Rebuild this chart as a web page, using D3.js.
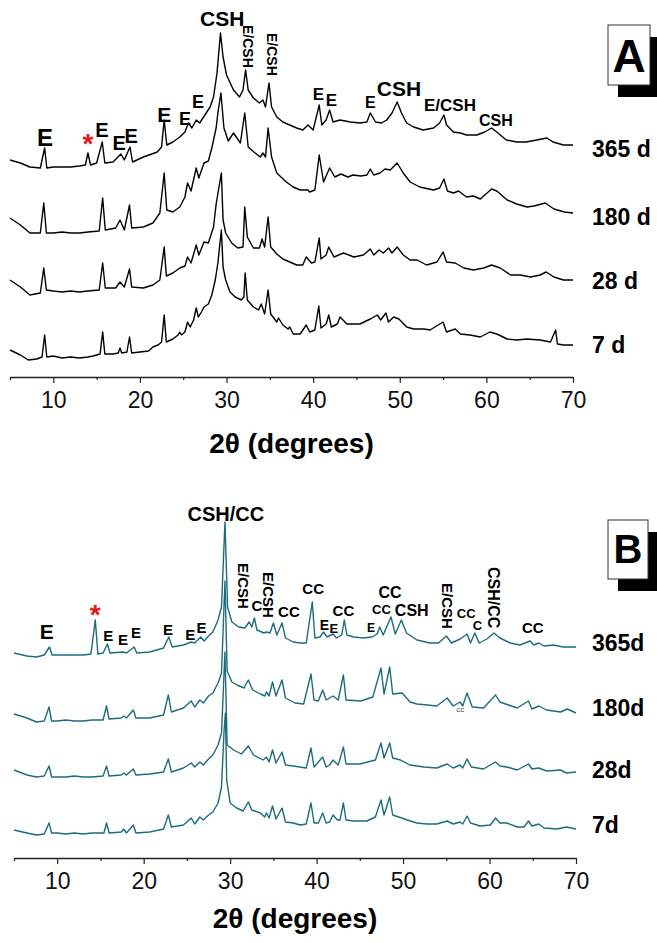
<!DOCTYPE html>
<html>
<head>
<meta charset="utf-8">
<script src="https://cdn.jsdelivr.net/npm/d3@7"></script>
<style>
body{margin:0;background:#fff;}
svg{display:block;font-family:"Liberation Sans",Arial,sans-serif;}
</style>
</head>
<body>
<svg id="chart" width="657" height="943"></svg>
<script>
// tick labels (2 theta)
var tickValues = [5,10,15,20,25,30,35,40,45,50,55,60,65,70];

// curing ages
var agesA = ['7 d','28 d','180 d','365 d'];
var agesB = ['7d','28d','180d','365d'];
// vertical stacking of the patterns (a.u.)
var offsetsA = [0,65,124,189];
var offsetsB = [0,56,112,178];

// panel A patterns [2theta, intensity a.u.]
var a7 = [[5,27],[6.2,22],[7.1,17],[8.1,18],[8.7,20],[9.0,42],[9.25,20],[10,21],[11,19],[12,20],[13,19],[14,20],[14.6,21],[15.4,23],[15.7,45],[15.95,23],[16.9,23],[17.5,24],[17.7,29],[17.9,24],[18.5,25],[18.8,40],[19.05,24],[20,25],[21,26],[21.5,30],[22.1,32],[22.5,35],[22.8,62],[23.05,35],[23.8,38],[24.4,42],[24.6,45],[24.8,42],[25.2,45],[25.5,55],[25.8,50],[26.2,57],[26.5,69],[26.75,60],[27.1,65],[27.4,70],[27.9,73],[28.3,82],[28.7,97],[29.0,114],[29.4,147],[29.6,110],[29.9,97],[30.4,85],[31.0,80],[31.7,77],[32.0,80],[32.15,104],[32.4,77],[33.1,70],[33.7,67],[34.0,73],[34.4,63],[34.8,87],[35.1,63],[35.8,55],[36.0,59],[36.5,52],[37.1,48],[37.3,50],[37.7,43],[38.5,43],[39.2,52],[39.6,45],[40.2,47],[40.65,71],[40.9,49],[41.5,53],[41.8,62],[42.1,50],[42.8,53],[43.1,60],[43.9,53],[45.4,53],[46.6,58],[47.4,62],[47.8,57],[48.4,64],[48.7,55],[49.3,60],[49.9,58],[50.8,50],[51.6,48],[52.8,48],[53.5,47],[55.0,55],[55.4,45],[56.4,48],[57.0,43],[58.1,42],[59.3,40],[60.4,45],[61.2,43],[62.4,38],[63.5,37],[64.7,38],[66.2,37],[67.4,35],[68.0,47],[68.2,33],[68.9,32],[70,32]];
var a28 = [[5,32],[6.2,25],[7.3,17],[8.5,19],[8.9,44],[9.2,22],[10,21],[11,20],[12,21],[13,20],[14,21],[15.3,22],[15.7,49],[16.0,24],[17.2,24],[17.7,30],[18.2,25],[18.8,43],[19.05,25],[20.4,24],[21.5,27],[22.3,32],[22.8,65],[23.05,36],[23.8,39],[24.6,44],[25.2,46],[25.5,55],[25.9,49],[26.5,67],[26.8,57],[27.4,70],[27.9,69],[28.5,85],[28.8,108],[29.4,139],[29.6,92],[29.9,79],[30.6,69],[31.3,64],[31.9,65],[32.1,105],[32.4,75],[33.1,64],[33.8,64],[34.1,73],[34.4,65],[34.8,95],[35.1,65],[35.8,58],[36.5,53],[37.3,50],[38.1,47],[38.8,47],[39.2,55],[39.8,49],[40.2,50],[40.7,74],[40.9,53],[41.5,57],[41.8,65],[42.4,55],[43.5,59],[44.7,55],[45.8,57],[46.6,63],[47.0,57],[47.6,62],[48.1,59],[48.7,64],[49.1,59],[49.7,65],[50.4,57],[51.2,52],[52.0,52],[53.1,47],[54.3,50],[55.0,60],[55.4,50],[56.4,49],[57.4,44],[58.5,42],[59.7,44],[60.6,47],[61.6,44],[62.8,37],[63.9,37],[65.1,35],[66.2,37],[66.9,40],[67.8,35],[68.9,32],[70,32]];
var a180 = [[5,35],[6.2,28],[7.3,20],[8.5,20],[8.9,50],[9.2,20],[10,20],[11,21],[12,20],[13,20],[14,21],[15.3,22],[15.7,55],[16.0,23],[17.2,25],[17.7,33],[18.2,23],[18.8,48],[19.05,25],[20.4,26],[21.5,30],[22.3,40],[22.8,80],[23.1,43],[23.8,41],[24.6,46],[25.2,56],[25.5,70],[25.9,62],[26.5,85],[26.8,75],[27.4,90],[27.9,92],[28.3,105],[28.8,125],[29.0,140],[29.35,160],[29.7,125],[30.2,112],[30.8,120],[31.6,110],[32.1,140],[32.5,106],[33.3,100],[33.9,96],[34.2,100],[34.5,96],[34.8,125],[35.2,96],[35.8,80],[36.9,71],[37.7,66],[38.5,63],[39.4,63],[39.6,61],[40.2,63],[40.7,98],[41.2,71],[41.9,85],[42.5,76],[43.2,79],[44.0,76],[44.6,78],[45.5,77],[46.2,78],[46.6,84],[47.0,78],[47.7,80],[48.3,84],[48.9,83],[49.7,90],[50.4,80],[51.2,71],[52.3,66],[53.9,63],[54.6,65],[55.1,74],[55.5,62],[56.2,60],[56.8,62],[57.7,56],[58.5,57],[59.3,54],[60.6,64],[61.2,62],[62.4,53],[63.5,49],[64.7,46],[65.5,47],[66.8,50],[67.8,44],[69.0,41],[70,40]];
var a365 = [[5,28],[6.2,25],[7.3,21],[8.5,20],[9.0,40],[9.25,20],[10,21],[11,21],[12,21],[13,22],[13.7,23],[14.0,35],[14.3,23],[15.0,25],[15.65,46],[15.95,25],[16.9,26],[17.8,34],[18.2,28],[18.85,41],[19.15,26],[20.4,31],[22.0,36],[22.5,41],[22.8,68],[23.1,43],[23.8,46],[24.6,51],[25.2,56],[25.6,65],[26.0,60],[26.5,68],[26.9,65],[27.5,73],[28.1,81],[28.5,91],[28.9,115],[29.3,155],[29.6,131],[30.0,113],[30.8,98],[31.5,91],[31.9,98],[32.2,118],[32.5,98],[33.1,90],[33.8,85],[34.2,88],[34.5,81],[34.9,105],[35.2,81],[35.8,71],[36.5,66],[37.3,63],[38.1,60],[38.8,58],[39.4,63],[40.0,58],[40.7,83],[41.0,63],[41.5,68],[41.9,78],[42.3,66],[43.1,68],[44.3,66],[45.4,65],[46.2,66],[46.6,75],[47.2,66],[47.9,65],[48.5,68],[49.1,75],[49.7,86],[50.2,75],[50.8,65],[51.6,61],[52.7,58],[53.9,60],[54.6,65],[55.1,73],[55.4,63],[56.2,56],[57.0,55],[57.7,53],[58.9,53],[59.8,56],[60.6,60],[61.2,56],[62.3,48],[63.5,46],[64.6,46],[65.8,48],[67.0,50],[67.7,46],[68.9,43],[70,43]];

// panel B patterns [2theta, intensity a.u.]
var b7 = [[5,28],[6.5,25],[7.6,23],[8.5,24],[9.05,35],[9.35,25],[10,25],[11,24],[12,25],[13,24],[14,25],[15.0,25],[15.4,25],[15.7,35],[16.0,25],[17.4,26],[17.7,29],[18.0,25],[18.8,33],[19.1,25],[20.7,26],[22.3,29],[22.85,43],[23.2,31],[24.6,33],[25.5,40],[25.9,34],[26.5,41],[26.9,38],[27.5,43],[28.0,46],[28.6,55],[29.0,71],[29.3,128],[29.45,145],[29.6,78],[30.0,55],[30.75,50],[31.5,47],[32.1,56],[32.5,48],[33.5,45],[34.0,41],[34.2,45],[34.5,40],[34.9,52],[35.3,39],[36.0,50],[36.4,36],[37.3,35],[38.1,33],[38.8,34],[39.35,55],[39.7,35],[40.2,35],[40.7,45],[41.1,35],[41.5,36],[41.9,43],[42.4,38],[42.7,38],[43.1,55],[43.4,38],[44.3,37],[45.8,37],[46.8,41],[47.45,58],[47.8,43],[48.45,61],[48.8,43],[49.5,41],[50.5,38],[51.6,35],[52.8,34],[53.9,34],[55.1,37],[55.8,34],[56.6,36],[56.9,34],[57.4,42],[57.8,35],[58.9,32],[60.1,33],[60.7,40],[61.2,35],[62.0,35],[63.2,31],[64.0,31],[64.5,37],[64.9,32],[65.7,34],[66.3,30],[67.8,29],[68.9,31],[70,29]];
var b28 = [[5,32],[6.5,27],[7.6,25],[8.5,26],[9.05,36],[9.35,25],[10,25],[11,25],[12,26],[13,25],[14,25],[15.3,26],[15.7,36],[16.0,26],[17.4,27],[17.7,29],[18.0,27],[18.8,33],[19.1,27],[20.7,28],[22.3,30],[22.85,43],[23.2,30],[24.6,34],[25.5,39],[25.9,35],[26.5,40],[26.9,37],[27.5,43],[28.0,47],[28.6,57],[29.0,69],[29.4,150],[29.65,57],[30.4,52],[31.3,48],[32.1,56],[32.7,47],[33.8,42],[34.2,45],[34.5,40],[34.9,52],[35.3,39],[36.0,50],[36.4,37],[37.3,36],[38.8,34],[39.35,54],[39.7,35],[40.7,45],[41.1,35],[41.5,37],[41.9,42],[42.5,37],[43.1,55],[43.4,38],[45.0,38],[46.8,42],[47.45,59],[47.8,44],[48.45,59],[48.8,44],[49.7,42],[50.8,37],[52.4,35],[53.9,34],[55.1,38],[55.8,34],[56.6,37],[56.9,34],[57.4,43],[57.9,35],[59.3,33],[60.7,40],[61.2,36],[62.0,35],[63.2,32],[64.5,38],[64.9,33],[65.7,34],[66.6,31],[68.2,32],[68.9,29],[70,30]];
var b180 = [[5,32],[6.5,28],[7.6,24],[8.5,25],[9.05,39],[9.35,25],[10,25],[11,26],[12,25],[13,25],[14,26],[15.3,26],[15.7,40],[16.0,27],[17.4,28],[17.7,30],[18.0,28],[18.8,36],[19.1,28],[20.7,28],[22.3,31],[22.85,51],[23.2,34],[24.6,38],[25.5,45],[25.9,39],[26.5,46],[26.9,43],[27.5,50],[28.0,53],[28.6,63],[29.0,73],[29.4,165],[29.65,75],[30.2,64],[30.8,61],[31.6,58],[32.1,66],[32.6,56],[33.5,52],[34.0,50],[34.2,54],[34.5,50],[34.9,64],[35.3,50],[36.0,66],[36.4,48],[37.5,43],[38.5,42],[39.35,72],[39.7,46],[40.2,45],[40.7,56],[41.1,46],[41.9,50],[42.5,46],[43.1,71],[43.4,46],[45.1,45],[46.5,49],[47.45,78],[47.8,52],[48.45,79],[48.8,52],[49.9,53],[50.8,44],[51.6,42],[52.8,41],[53.9,40],[55.1,48],[55.8,40],[56.6,44],[56.9,40],[57.4,53],[58.0,39],[59.3,38],[60.7,51],[61.2,44],[62.2,41],[63.2,38],[64.5,45],[64.9,37],[65.7,40],[66.6,36],[68.2,34],[69.0,37],[70,33]];
var b365 = [[5,27],[6.5,24],[7.6,23],[8.5,25],[9.1,33],[9.4,25],[10,25],[11,25],[12,25],[13,25],[13.9,26],[14.4,60],[14.7,26],[15.3,27],[15.8,36],[16.1,27],[17.6,28],[18.0,27],[18.9,33],[19.2,27],[20.7,28],[22.3,32],[22.9,43],[23.3,33],[24.6,35],[25.5,38],[25.9,37],[26.6,43],[27.0,39],[27.5,44],[28.0,48],[28.6,60],[29.0,73],[29.4,158],[29.7,73],[30.2,58],[31.0,53],[31.7,52],[32.2,58],[32.5,53],[32.8,62],[33.1,50],[33.9,47],[34.2,48],[34.6,47],[35.0,57],[35.4,45],[36.0,57],[36.4,42],[37.3,38],[38.1,37],[38.8,37],[39.5,78],[39.8,42],[40.4,43],[40.8,48],[41.2,43],[41.9,46],[42.3,42],[42.9,45],[43.2,60],[43.5,45],[44.3,43],[45.4,42],[46.4,43],[47.0,46],[47.3,53],[47.7,45],[48.6,63],[49.1,46],[49.8,60],[50.4,47],[51.6,40],[53.1,37],[54.1,37],[55.0,44],[55.6,37],[56.6,41],[57.4,46],[57.8,37],[58.3,47],[58.8,37],[59.7,41],[60.5,47],[61.2,42],[62.4,37],[63.5,35],[64.7,39],[65.1,35],[65.7,37],[66.3,34],[67.4,35],[68.5,33],[70,33]];

// phase labels: text, 2theta, height (a.u.), size, rotated
var labelsA = [
  ['E',9.04,231,24],['*',14.0,224,28],['E',15.6,240,20],['E',17.6,227,20],['E',19.0,234,20],
  ['E',22.8,255,21],['E',25.2,252,18],['E',26.7,269,18],['CSH',29.5,351,21],
  ['E/CSH',31.9,352,14,1],['E/CSH',34.7,344,14,1],
  ['E',40.6,277,17],['E',42.1,271,17],['E',46.6,269,16],['CSH',49.9,281,21],['E/CSH',55.8,266,17],['CSH',61.1,251,16]
];
var labelsB = [
  ['E',8.8,219,21],['*',14.4,234,28],['E',15.9,217,15],['E',17.6,213,15],['E',19.1,220,15],
  ['E',22.8,223,15],['E',25.4,218,15],['E',26.7,225,15],['CSH/CC',29.5,337,20],
  ['E/CSH',30.9,295,15,1],['C',33.1,247,15],['E/CSH',33.8,286,15,1],['CC',36.8,241,15],['CC',39.6,264,15],
  ['E',40.9,228,14],['E',42.0,225,13],['CC',43.1,242,15],['E',46.3,226,12],['CC',47.5,244,13],['CC',48.5,260,16],
  ['CSH',51.0,242,16],['E/CSH',54.5,275,15,1],['CC',57.3,240,13],['C',58.6,228,13],['CSH/CC',59.8,291,16,1],['CC',65.0,225,15]
];

var svg = d3.select('#chart');

function drawPanel(cfg){
  var x = d3.scaleLinear().domain([5,70]).range(cfg.xr);
  var y = d3.scaleLinear().domain([0,360]).range([cfg.axisY, cfg.axisY-360]);
  var g = svg.append('g');

  var line = d3.line().x(function(d){ return x(d[0]); }).y(function(d,i){ return y(d[1]); });

  cfg.series.forEach(function(s,i){
    g.append('path')
      .datum(s.map(function(p){ return [p[0], p[1]+cfg.offsets[i]]; }))
      .attr('d',line)
      .attr('fill','none')
      .attr('stroke',cfg.color)
      .attr('stroke-width',1.4)
      .attr('stroke-linejoin','round');
  });

  // axis
  var axis = d3.axisBottom(x).tickValues(tickValues).tickSizeInner(6).tickSizeOuter(0)
    .tickFormat(function(d){ return d%10===0 ? d : ''; });
  var ax = g.append('g').attr('transform','translate(0,'+cfg.axisY+')').call(axis);
  ax.select('.domain').attr('stroke','#222').attr('stroke-width',1.3);
  ax.selectAll('.tick line').attr('stroke','#222').attr('stroke-width',1.2)
    .attr('y2',function(d){ return d%10===0 ? 6 : 3; });
  ax.selectAll('.tick text').attr('y',31).attr('dy',0)
    .style('font-family','"Liberation Sans",Arial,sans-serif').style('font-size','23px').attr('fill','#111');

  g.append('text').attr('x',(cfg.xr[0]+cfg.xr[1])/2).attr('y',cfg.axisY+cfg.titleDy)
    .attr('text-anchor','middle').style('font-size','28px').style('font-weight','bold')
    .text('2θ (degrees)');

  // age labels
  cfg.ages.forEach(function(a,i){
    g.append('text').attr('x',cfg.ageX).attr('y',y(cfg.ageY[i]))
      .style('font-size','23px').style('font-weight','bold').text(a);
  });

  // phase labels
  cfg.labels.forEach(function(l){
    var t = g.append('text').style('font-size',l[3]+'px').style('font-weight','bold')
      .attr('fill', l[0]==='*' ? '#e3171b' : '#000').text(l[0]);
    if(l[4]){
      t.attr('transform','translate('+x(l[1])+','+y(l[2])+') rotate(90)');
    } else {
      t.attr('x',x(l[1])).attr('y',y(l[2])).attr('text-anchor','middle');
    }
  });

  // panel letter box with shadow
  var b = cfg.box;
  g.append('rect').attr('x',b[0]+10).attr('y',b[1]+12).attr('width',b[2]).attr('height',b[3]).attr('fill','#000');
  g.append('rect').attr('x',b[0]).attr('y',b[1]).attr('width',b[2]).attr('height',b[3])
    .attr('fill','#fff').attr('stroke','#333').attr('stroke-width',1);
  g.append('text').attr('x',b[0]+b[2]/2).attr('y',b[1]+b[3]-cfg.letterDy)
    .attr('text-anchor','middle').style('font-size',cfg.letterSize+'px').style('font-weight','bold').text(cfg.letter);

  return {x:x, y:y, g:g};
}

drawPanel({
  xr:[10,573], axisY:377, titleDy:76, color:'#000',
  series:[a7,a28,a180,a365], offsets:offsetsA,
  ages:agesA, ageX:592, ageY:[24,88,152,220],
  labels:labelsA, box:[608,25,42,60], letter:'A', letterSize:46, letterDy:13
});

var pb = drawPanel({
  xr:[14,576], axisY:858, titleDy:70, color:'#1c6c7c',
  series:[b7,b28,b180,b365], offsets:offsetsB,
  ages:agesB, ageX:592, ageY:[25,80,142,207],
  labels:labelsB, box:[608,520,40,59], letter:'B', letterSize:40, letterDy:16
});

// tiny 'cc' mark on the 180d pattern
pb.g.append('text').attr('x',pb.x(56.6)).attr('y',pb.y(146)).attr('text-anchor','middle')
  .style('font-size','8px').attr('fill','#555').text('cc');
</script>
</body>
</html>
